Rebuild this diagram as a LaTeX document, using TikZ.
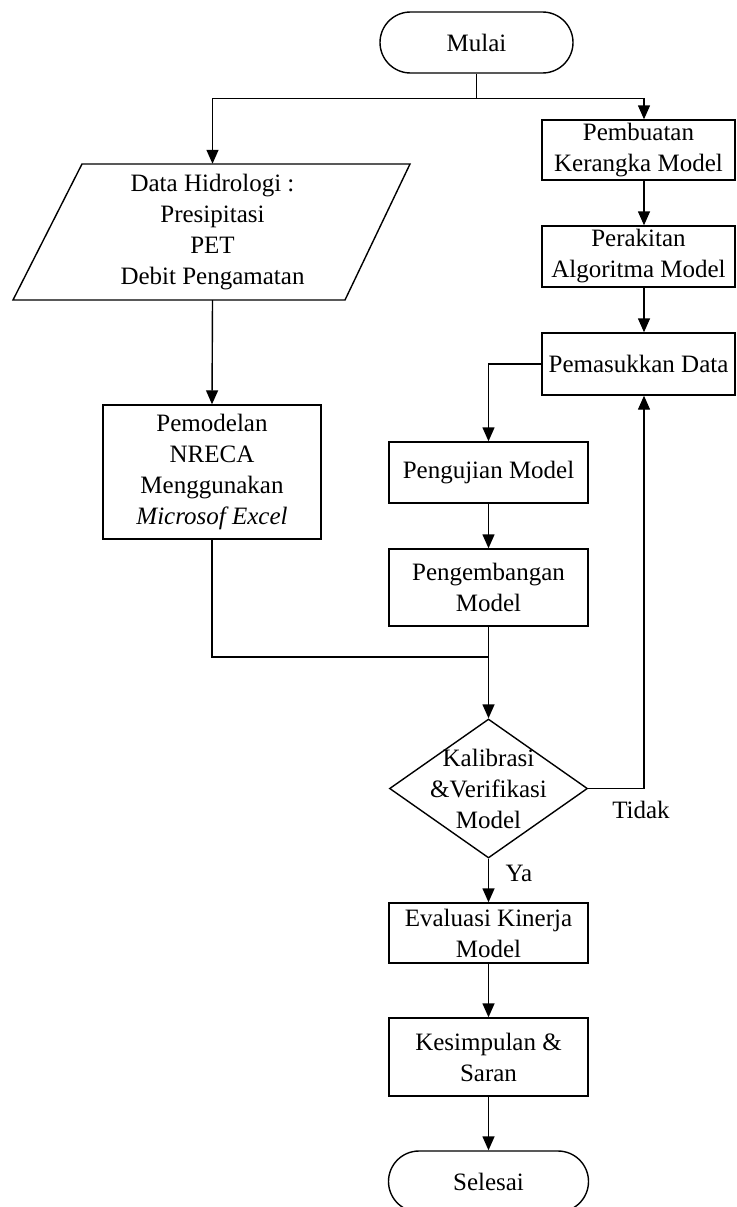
\documentclass[tikz,border=0pt]{standalone}
\usepackage{fontspec}
\setmainfont{Liberation Serif}
\usetikzlibrary{arrows.meta,shapes.geometric,shapes.misc,calc}
\begin{document}
\begin{tikzpicture}[x=1pt,y=-1pt,
  every node/.style={font=\fontsize{25}{31}\selectfont, align=center, inner sep=0pt},
  box/.style={draw, line width=1.4pt, rectangle},
  term/.style={draw, line width=1.4pt, rounded rectangle},
  conn/.style={line width=1.4pt},
  arr/.style={conn, -{Triangle[width=12pt,length=14pt]}}
]
\fill[white] (0,0) rectangle (736,1207);
\useasboundingbox (0,0) rectangle (736,1207);

\node[term, minimum width=193pt, minimum height=61pt] (mulai) at (476.5,42.5) {Mulai};

\node[minimum width=260pt, minimum height=136pt] (dat) at (212.5,232) {Data Hidrologi :\\Presipitasi\\PET\\Debit Pengamatan};
\draw[conn] ($(dat.center)+(-130.5,-68)$) -- ($(dat.center)+(197.5,-68)$) -- ($(dat.center)+(132.5,68)$) -- ($(dat.center)+(-199.5,68)$) -- cycle;

\node[box, minimum width=218pt, minimum height=134pt] (pm) at (212,472) {Pemodelan\\NRECA\\Menggunakan\\\textit{Microsof Excel}};

\coordinate (colR) at (644,0);
\node[box, minimum width=193pt, minimum height=60pt] (pb) at (638.5,150) {Pembuatan\\Kerangka Model};
\node[box, minimum width=193pt, minimum height=61pt] (pr) at (638.5,256.5) {Perakitan\\Algoritma Model};
\node[box, minimum width=193pt, minimum height=62pt] (pd) at (638.5,364) {Pemasukkan Data};

\node[box, minimum width=199pt, minimum height=61pt] (pu) at (488.5,472.5) {Pengujian Model};
\node[box, minimum width=199pt, minimum height=77pt] (pg) at (488.5,587.5) {Pengembangan\\Model};
\node[draw, line width=1.4pt, diamond, minimum width=198pt, minimum height=139pt] (kv) at (488.5,788.5) {};
\node (kvt) at (kv.center) {Kalibrasi\\\&Verifikasi\\Model};
\node[box, minimum width=199pt, minimum height=60pt] (ev) at (488.5,933) {Evaluasi Kinerja\\Model};
\node[box, minimum width=199pt, minimum height=78pt] (ks) at (488.5,1057) {Kesimpulan \&\\Saran};
\node[term, minimum width=200pt, minimum height=61pt] (sel) at (488.5,1181.5) {Selesai};

\draw[conn] (mulai.south) -- ++(0,25) coordinate (j1);
\draw[arr] (j1) -| (dat.north);
\draw[arr] (j1) -| (pb.north -| colR);
\draw[arr] (pb.south -| colR) -- (pr.north -| colR);
\draw[arr] (pr.south -| colR) -- (pd.north -| colR);
\draw[arr] (dat.south) -- (pm.north);
\draw[arr] (pd.west) -| (pu.north);
\draw[arr] (pu.south) -- (pg.north);
\coordinate (mj) at (488.5,657);
\draw[conn] (pm.south) |- (mj);
\draw[arr] (pg.south) -- (kv.north);
\draw[arr] (kv.east) -| (pd.south -| colR);
\node (tidak) at (641,810) {Tidak};
\draw[arr] (kv.south) -- (ev.north);
\node (ya) at (519,873) {Ya};
\draw[arr] (ev.south) -- (ks.north);
\draw[arr] (ks.south) -- (sel.north);
\end{tikzpicture}
\end{document}
